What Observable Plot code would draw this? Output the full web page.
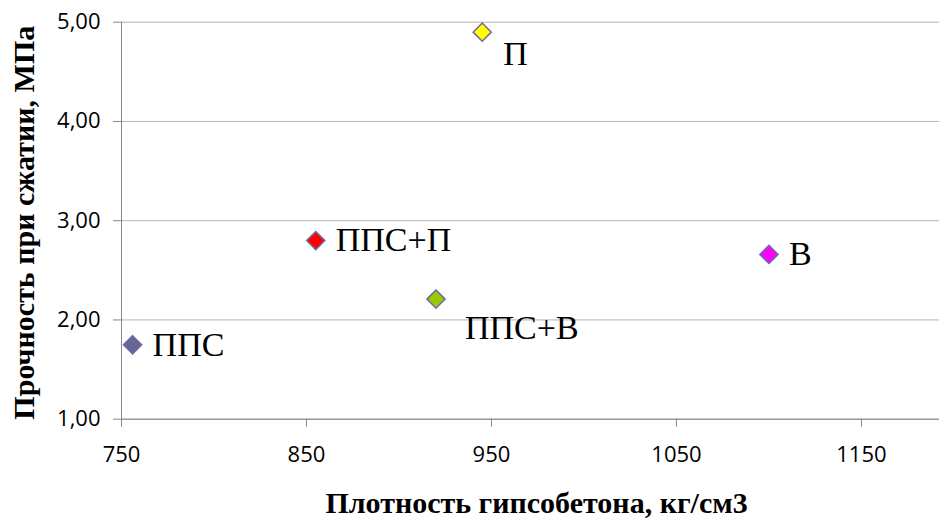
<!DOCTYPE html>
<html>
<head>
<meta charset="utf-8">
<script src="https://cdn.jsdelivr.net/npm/d3@7"></script>
<script src="https://cdn.jsdelivr.net/npm/@observablehq/plot@0.6"></script>
<style>
  html, body { margin: 0; padding: 0; background: #fff; }
  #chart svg { display: block; }
</style>
</head>
<body>
<div id="chart"></div>
<script>
// Data
const names = ["ППС", "ППС+П", "П", "ППС+В", "В"];
const density = [756, 855, 945, 920, 1100];        // кг/см3
const strength = [1.75, 2.80, 4.90, 2.21, 2.66];   // МПа
const pointColors = ["#666699", "#FF0000", "#FFFF00", "#99CC00", "#FF00FF"];
const xTicks = [750, 850, 950, 1050, 1150];
const yTicks = [1, 2, 3, 4, 5];
const xTitle = "Плотность гипсобетона, кг/см3";
const yTitle = "Прочность при сжатии, МПа";

const data = names.map((name, i) => ({ name, x: density[i], y: strength[i] }));
const fmt = d => d.toFixed(2).replace(".", ",");
const tickFont = "'Open Sans', sans-serif";
const serif = "'Liberation Serif', 'Times New Roman', serif";
const shiftedLabels = { "П": [21, 22], "ППС+В": [29, 29] };

const chart = Plot.plot({
  width: 939,
  height: 519,
  marginLeft: 121,
  marginRight: 0,
  marginTop: 21.7,
  marginBottom: 100.3,
  x: { domain: [750, 1192.2], axis: null },
  y: { domain: [1, 5], axis: null },
  color: { type: "ordinal", domain: names, range: pointColors },
  marks: [
    Plot.gridY(yTicks, { stroke: "#b3b3b3", strokeOpacity: 1 }),
    Plot.ruleY([1], { stroke: "#868686" }),
    Plot.ruleX([750], { stroke: "#868686" }),
    Plot.axisY(yTicks, {
      tickSize: 8, tickPadding: 13, tickFormat: fmt,
      stroke: "#868686", fill: "#000", fontSize: 22, fontFamily: tickFont, label: null
    }),
    Plot.axisX(xTicks, {
      tickSize: 8, tickPadding: 19, tickFormat: d => String(d),
      stroke: "#868686", fill: "#000", fontSize: 22, fontFamily: tickFont, label: null
    }),
    Plot.dot(data, {
      x: "x", y: "y", symbol: "diamond2", r: 8.2,
      fill: "name", stroke: "#6B6BA3", strokeWidth: 1.5
    }),
    Plot.text(data.filter(d => !(d.name in shiftedLabels)), {
      x: "x", y: "y", text: "name", textAnchor: "start", dx: 20,
      fontSize: 34, fontFamily: serif, fill: "#000"
    }),
    ...Object.entries(shiftedLabels).map(([n, [dx, dy]]) =>
      Plot.text(data.filter(d => d.name === n), {
        x: "x", y: "y", text: "name", textAnchor: "start", dx, dy,
        fontSize: 34, fontFamily: serif, fill: "#000"
      })
    ),
    Plot.text([xTitle], {
      frameAnchor: "bottom", textAnchor: "middle", lineAnchor: "middle",
      dy: 84, dx: 6, text: d => d,
      fontSize: 30, fontWeight: "bold", fontFamily: serif, fill: "#000"
    }),
    Plot.text([yTitle], {
      frameAnchor: "left", textAnchor: "middle", lineAnchor: "middle",
      dx: -97, dy: 2, rotate: -90, text: d => d,
      fontSize: 30, fontWeight: "bold", fontFamily: serif, fill: "#000"
    })
  ]
});
document.getElementById("chart").appendChild(chart);
</script>
</body>
</html>
